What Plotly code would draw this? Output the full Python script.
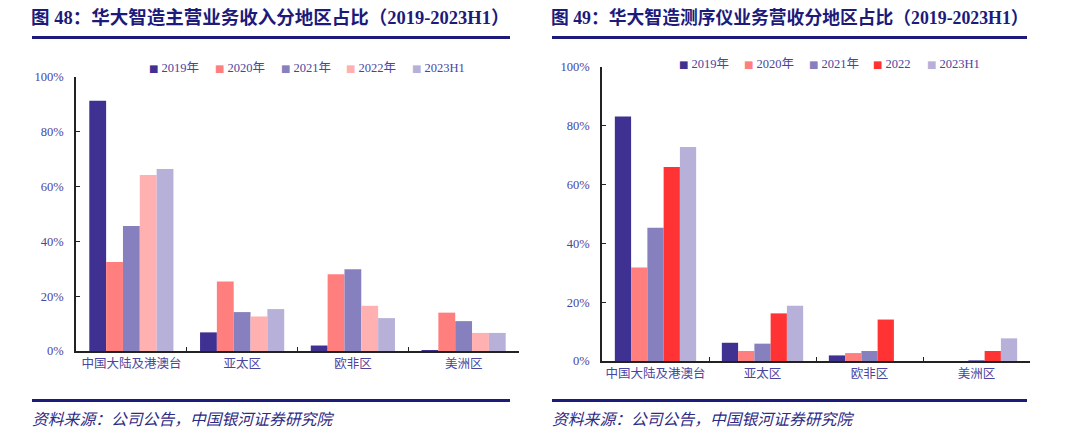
import plotly.graph_objects as go

# ---------------- data ----------------
regions = ["中国大陆及港澳台", "亚太区", "欧非区", "美洲区"]

series1_names = ["2019年", "2020年", "2021年", "2022年", "2023H1"]
c1_2019 = [0.913, 0.068, 0.020, 0.003]
c1_2020 = [0.325, 0.254, 0.280, 0.140]
c1_2021 = [0.456, 0.142, 0.298, 0.109]
c1_2022 = [0.642, 0.126, 0.165, 0.066]
c1_2023 = [0.664, 0.153, 0.120, 0.066]

series2_names = ["2019年", "2020年", "2021年", "2022", "2023H1"]
c2_2019 = [0.832, 0.062, 0.019, 0.0]
c2_2020 = [0.318, 0.034, 0.027, 0.0]
c2_2021 = [0.453, 0.059, 0.034, 0.003]
c2_2022 = [0.660, 0.162, 0.141, 0.034]
c2_2023 = [0.728, 0.188, 0.0, 0.077]

colors1 = ["#3F3192", "#FF7F7F", "#8780BE", "#FFB0B0", "#B7B0D8"]
colors2 = ["#3F3192", "#FF7F7F", "#8780BE", "#FF3333", "#B7B0D8"]

title1 = "图 48：华大智造主营业务收入分地区占比（2019-2023H1）"
title2 = "图 49：华大智造测序仪业务营收分地区占比（2019-2023H1）"
source_text = "资料来源：公司公告，中国银河证券研究院"

y_ticks = [0, 0.2, 0.4, 0.6, 0.8, 1.0]

# ---------------- figure ----------------
W, H = 1080, 443
OFF = 8  # page body margin of the written html
NAVY = "#1C1A7A"
TICK_COLOR = "#4A44A0"
SERIF = "Liberation Serif, Noto Sans CJK SC"

fig = go.Figure()

for name, vals, col in zip(series1_names, [c1_2019, c1_2020, c1_2021, c1_2022, c1_2023], colors1):
    fig.add_trace(go.Bar(x=regions, y=vals, name=name, marker=dict(color=col, line=dict(width=0)),
                         xaxis="x", yaxis="y", showlegend=False))
for name, vals, col in zip(series2_names, [c2_2019, c2_2020, c2_2021, c2_2022, c2_2023], colors2):
    fig.add_trace(go.Bar(x=regions, y=vals, name=name, marker=dict(color=col, line=dict(width=0)),
                         xaxis="x2", yaxis="y2", showlegend=False))

def px_x(v):
    return (v - OFF) / W

def px_y(v):
    return 1 - (v - OFF) / H

xaxis_common = dict(type="category", showline=True, linecolor="#222222", linewidth=1.5,
                    ticks="inside", ticklen=4, tickcolor="#222222", tickson="boundaries",
                    showgrid=False, zeroline=False, tickangle=0, automargin=False,
                    tickfont=dict(family="Noto Sans CJK SC", size=12.5, color=TICK_COLOR))
yaxis_common = dict(range=[0, 1], tickvals=y_ticks, tickformat=".0%", showline=True,
                    linecolor="#222222", linewidth=1.5, ticks="inside", ticklen=4,
                    tickcolor="#222222", showgrid=False, zeroline=False, automargin=False,
                    ticklabelstandoff=8,
                    tickfont=dict(family=SERIF, size=12.5, color=TICK_COLOR))

fig.update_layout(
    width=W, height=H, autosize=False,
    margin=dict(l=0, r=0, t=0, b=0, autoexpand=False),
    paper_bgcolor="white", plot_bgcolor="white",
    barmode="group", bargap=0.24, bargroupgap=0,
    xaxis=dict(domain=[px_x(76), px_x(519)], anchor="y", **xaxis_common),
    yaxis=dict(domain=[px_y(351), px_y(77)], anchor="x", **yaxis_common),
    xaxis2=dict(domain=[px_x(602), px_x(1030)], anchor="y2", **xaxis_common),
    yaxis2=dict(domain=[px_y(361), px_y(67)], anchor="x2", **yaxis_common),
    showlegend=False,
)

# legends (drawn as text entries)
legend1_x = [148, 214, 280, 345, 411]
legend2_x = [678, 743, 808, 872, 926]
for names, cols, xs, yy in [(series1_names, colors1, legend1_x, 68), (series2_names, colors2, legend2_x, 64)]:
    for name, col, x0 in zip(names, cols, xs):
        fig.add_annotation(
            text=f"<span style='color:{col};font-size:10px;font-family:DejaVu Sans'>■</span> {name}",
            x=px_x(x0 - 1), y=px_y(yy), xref="paper", yref="paper",
            xanchor="left", yanchor="middle", showarrow=False,
            font=dict(family=SERIF, size=12.5, color=TICK_COLOR))

# titles
for txt, x0, fs in [(title1, 29, 18.5), (title2, 549, 17.8)]:
    fig.add_annotation(text="<b>" + txt + "</b>", x=px_x(x0), y=px_y(18), xref="paper", yref="paper",
                       xanchor="left", yanchor="middle", showarrow=False,
                       font=dict(family=SERIF, size=fs, color=NAVY))

# sources
for x0 in [30, 550]:
    fig.add_annotation(text="<i>" + source_text + "</i>", x=px_x(x0), y=px_y(418), xref="paper", yref="paper",
                       xanchor="left", yanchor="middle", showarrow=False,
                       font=dict(family="Noto Sans CJK SC", size=15.8, color="#2E2A85"))

# rule lines
for (xa, xb) in [(32, 510), (552, 1027)]:
    for yy in [37.5, 400.5]:
        fig.add_shape(type="line", xref="paper", yref="paper",
                      x0=px_x(xa), x1=px_x(xb), y0=px_y(yy), y1=px_y(yy),
                      line=dict(color=NAVY, width=3))

fig.write_html("out.html")
